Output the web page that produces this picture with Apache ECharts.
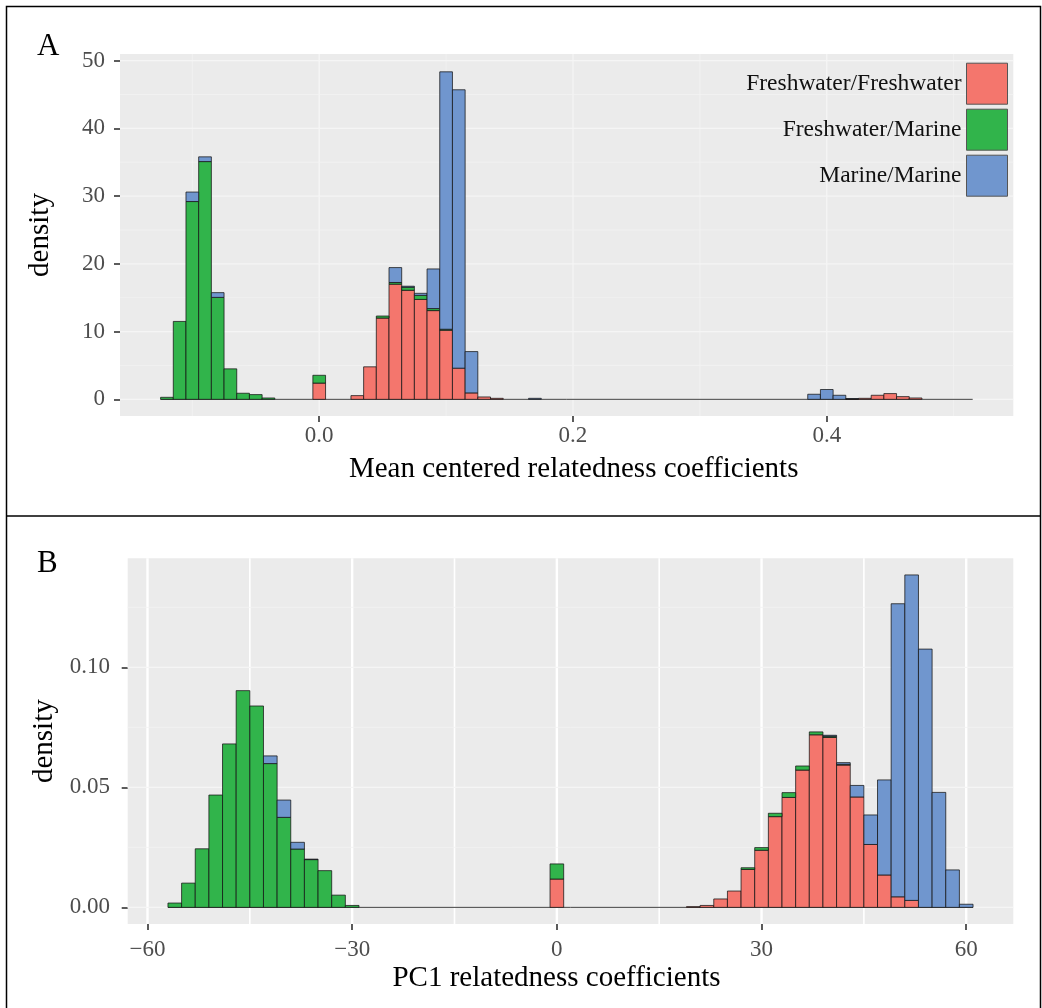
<!DOCTYPE html>
<html><head><meta charset="utf-8">
<script src="https://cdn.jsdelivr.net/npm/echarts@6/dist/echarts.min.js"></script>
<style>html,body{margin:0;padding:0;background:#fff}#c{width:1042px;height:1008px}</style>
</head><body><div id="c"></div>
<script>
// ---------- data ----------
const groups = ['Freshwater/Freshwater', 'Freshwater/Marine', 'Marine/Marine'];
const colors = ['#F4766D', '#31B44B', '#7096CE'];

// Panel A: mean centered relatedness coefficients (bin width 0.01, bin centres)
const binWidthA = 0.01;
const binRangeA = [-0.125, 0.515];
const binsA = [-0.12,-0.11,-0.10,-0.09,-0.08,-0.07,-0.06,-0.05,-0.04,0.00,0.03,0.04,0.05,0.06,0.07,0.08,0.09,0.10,0.11,0.12,0.13,0.14,0.17,0.39,0.40,0.41,0.42,0.43,0.44,0.45,0.46,0.47];
const ffA = [0,0,0,0,0,0,0,0,0,2.4,0.55,4.8,12.0,17.0,16.1,14.75,13.1,10.2,4.6,0.95,0.35,0.15,0,0,0,0,0.05,0.15,0.6,0.85,0.4,0.2];
const fmA = [0.3,11.5,29.2,35.1,15.05,4.5,0.9,0.7,0.2,1.15,0,0,0.3,0.25,0.45,0.6,0.3,0.15,0,0,0,0,0,0,0,0,0,0,0,0,0,0];
const mmA = [0,0,1.4,0.7,0.7,0,0,0,0,0,0,0,0,2.2,0.15,0.3,5.85,38.0,41.1,6.1,0,0,0.15,0.75,1.45,0.6,0.05,0,0,0,0,0];

// Panel B: PC1 relatedness coefficients (bin width 2, bin centres)
const binWidthB = 2;
const binRangeB = [-57, 61];
const binsB = [-56,-54,-52,-50,-48,-46,-44,-42,-40,-38,-36,-34,-32,-30,0,20,22,24,26,28,30,32,34,36,38,40,42,44,46,48,50,52,54,56,58,60];
const ffB = [0,0,0,0,0,0,0,0,0,0,0,0,0,0,0.0118,0.0003,0.0008,0.0035,0.0068,0.0158,0.0238,0.0378,0.0458,0.0572,0.0719,0.0708,0.0593,0.0460,0.0262,0.0135,0.0044,0.0029,0,0,0,0];
const fmB = [0.0018,0.0101,0.0244,0.0468,0.0681,0.0903,0.0839,0.0599,0.0375,0.0243,0.0199,0.0153,0.0051,0.0008,0.0063,0,0,0,0,0.0007,0.0011,0.0014,0.0020,0.0017,0.0012,0.0005,0.0003,0,0,0,0,0,0,0,0,0];
const mmB = [0,0,0,0,0,0,0,0.0032,0.0072,0.0028,0.0002,0,0,0,0,0,0,0,0,0,0,0,0,0,0,0.0004,0.0007,0.0048,0.0123,0.0396,0.1221,0.1356,0.1076,0.0479,0.0156,0.0013];

// tick values / labels
const xTicksA = [0.0, 0.2, 0.4];
const xMinorA = [-0.1, 0.1, 0.3, 0.5];
const yTicksA = [0, 10, 20, 30, 40, 50];
const yMinorA = [5, 15, 25, 35, 45];
const xTicksB = [-60, -30, 0, 30, 60];
const xMinorB = [-45, -15, 15, 45];
const yTicksB = [0, 0.05, 0.10];
const yMinorB = [0.025, 0.075, 0.125];

// ---------- helpers ----------
const FONT = 'Liberation Serif';
function stackGroups(bins, arrs) {
  const out = arrs.map(() => []);
  bins.forEach((b, i) => {
    let lo = 0;
    arrs.forEach((a, g) => {
      const v = a[i];
      if (v > 0) out[g].push([b, lo, lo + v]);
      lo += v;
    });
  });
  return out;
}
function barSeries(data, g, idx, bw) {
  return {
    type: 'custom', name: groups[g], xAxisIndex: idx, yAxisIndex: idx, z: 5,
    itemStyle: { color: colors[g] },
    encode: { x: 0, y: [1, 2] },
    data: data,
    renderItem: function (params, api) {
      const x = api.value(0), lo = api.value(1), hi = api.value(2);
      const p0 = api.coord([x - bw / 2, lo]);
      const p1 = api.coord([x + bw / 2, hi]);
      return { type: 'rect',
        shape: { x: p0[0], y: p1[1], width: p1[0] - p0[0], height: p0[1] - p1[1] },
        style: { fill: colors[g], stroke: 'rgba(20,20,20,0.75)', lineWidth: 1 } };
    }
  };
}
function baseSeries(range, idx) {
  return {
    type: 'custom', xAxisIndex: idx, yAxisIndex: idx, z: 4, silent: true,
    encode: { x: [0, 1] }, data: [[range[0], range[1]]],
    renderItem: function (params, api) {
      const a = api.coord([api.value(0), 0]), b = api.coord([api.value(1), 0]);
      return { type: 'line', shape: { x1: a[0], y1: a[1], x2: b[0], y2: b[1] },
        style: { stroke: 'rgba(20,20,20,0.8)', lineWidth: 1 } };
    }
  };
}
function gridSeries(vals, idx, vertical, color, width) {
  return {
    type: 'custom', xAxisIndex: idx, yAxisIndex: idx, z: 1, silent: true,
    encode: { x: 0, y: 1 },
    data: vals.map(v => vertical ? [v, 0] : [0, v]),
    renderItem: function (params, api) {
      const cs = params.coordSys;
      const p = api.coord([api.value(0), api.value(1)]);
      const shape = vertical
        ? { x1: p[0], y1: cs.y, x2: p[0], y2: cs.y + cs.height }
        : { x1: cs.x, y1: p[1], x2: cs.x + cs.width, y2: p[1] };
      return { type: 'line', shape: shape, style: { stroke: color, lineWidth: width } };
    }
  };
}
function axisCommon(ticks, fmt, margin) {
  return {
    axisLine: { show: false, onZero: false },
    splitLine: { show: false },
    axisTick: { show: true, customValues: ticks, length: 6, lineStyle: { color: '#333', width: 1.6 } },
    axisLabel: { customValues: ticks, formatter: fmt, margin: margin,
      fontFamily: FONT, fontSize: 23, color: '#4D4D4D' }
  };
}
const minus = v => (v < 0 ? '\u2212' + Math.abs(v) : String(v));

const stA = stackGroups(binsA, [ffA, fmA, mmA]);
const stB = stackGroups(binsB, [ffB, fmB, mmB]);

const option = {
  animation: false,
  backgroundColor: '#ffffff',
  grid: [
    { left: 120, top: 54, right: 28.7, bottom: 592, show: true, backgroundColor: '#EBEBEB', borderWidth: 0 },
    { left: 127.7, top: 558.3, right: 28.7, bottom: 84, show: true, backgroundColor: '#EBEBEB', borderWidth: 0 }
  ],
  xAxis: [
    Object.assign({ type: 'value', gridIndex: 0, min: -0.157, max: 0.547,
      name: 'Mean centered relatedness coefficients', nameLocation: 'middle', nameGap: 38.5,
      nameTextStyle: { fontFamily: FONT, fontSize: 29, color: '#000', padding: [0, 0, 0, 14] } },
      axisCommon(xTicksA, v => v.toFixed(1), 8.3)),
    Object.assign({ type: 'value', gridIndex: 1, min: -62.9, max: 66.9,
      name: 'PC1 relatedness coefficients', nameLocation: 'middle', nameGap: 40,
      nameTextStyle: { fontFamily: FONT, fontSize: 29, color: '#000', padding: [0, 28, 0, 0] } },
      axisCommon(xTicksB, minus, 14.2))
  ],
  yAxis: [
    Object.assign({ type: 'value', gridIndex: 0, min: -2.46, max: 50.98,
      name: 'density', nameLocation: 'middle', nameRotate: 90, nameGap: 65.5,
      nameTextStyle: { fontFamily: FONT, fontSize: 29, color: '#000' } },
      axisCommon(yTicksA, v => String(Math.round(v)), 15)),
    Object.assign({ type: 'value', gridIndex: 1, min: -0.00693, max: 0.14543,
      name: 'density', nameLocation: 'middle', nameRotate: 90, nameGap: 66,
      nameTextStyle: { fontFamily: FONT, fontSize: 29, color: '#000' } },
      axisCommon(yTicksB, v => v.toFixed(2), 17.7))
  ],
  legend: {
    orient: 'vertical', right: 34, top: 62.7, align: 'right', padding: 0,
    itemWidth: 41, itemHeight: 41, itemGap: 4, selectedMode: false,
    textStyle: { fontFamily: FONT, fontSize: 23.5, color: '#111' },
    data: groups.map((g, i) => ({ name: g, icon: 'rect',
      itemStyle: { color: colors[i], borderColor: '#555', borderWidth: 1 } }))
  },
  series: [
    gridSeries(xMinorA, 0, true, '#F2F2F2', 0.8),
    gridSeries(xTicksA, 0, true, '#F5F5F5', 1.3),
    gridSeries(yMinorA, 0, false, '#F2F2F2', 0.8),
    gridSeries(yTicksA, 0, false, '#F5F5F5', 1.3),
    gridSeries(xMinorB, 1, true, '#FFFFFF', 1.6),
    gridSeries(xTicksB, 1, true, '#FFFFFF', 2.4),
    gridSeries(yMinorB, 1, false, '#F3F3F3', 0.8),
    gridSeries(yTicksB, 1, false, '#F5F5F5', 1.3),
    baseSeries(binRangeA, 0),
    baseSeries(binRangeB, 1),
    barSeries(stA[0], 0, 0, binWidthA), barSeries(stA[1], 1, 0, binWidthA), barSeries(stA[2], 2, 0, binWidthA),
    barSeries(stB[0], 0, 1, binWidthB), barSeries(stB[1], 1, 1, binWidthB), barSeries(stB[2], 2, 1, binWidthB)
  ],
  graphic: [
    { type: 'rect', silent: true, shape: { x: 6.5, y: 6.5, width: 1034, height: 1010 },
      style: { fill: 'none', stroke: '#000', lineWidth: 1.5 } },
    { type: 'line', silent: true, shape: { x1: 6.5, y1: 516, x2: 1040.5, y2: 516 },
      style: { stroke: '#000', lineWidth: 1.5 } },
    { type: 'text', silent: true, style: { x: 37, y: 47, text: 'A', font: '31px "Liberation Serif"', fill: '#000', verticalAlign: 'middle' } },
    { type: 'text', silent: true, style: { x: 37, y: 564, text: 'B', font: '31px "Liberation Serif"', fill: '#000', verticalAlign: 'middle' } }
  ]
};
const chart = echarts.init(document.getElementById('c'), null, { renderer: 'canvas' });
chart.setOption(option);
</script></body></html>
